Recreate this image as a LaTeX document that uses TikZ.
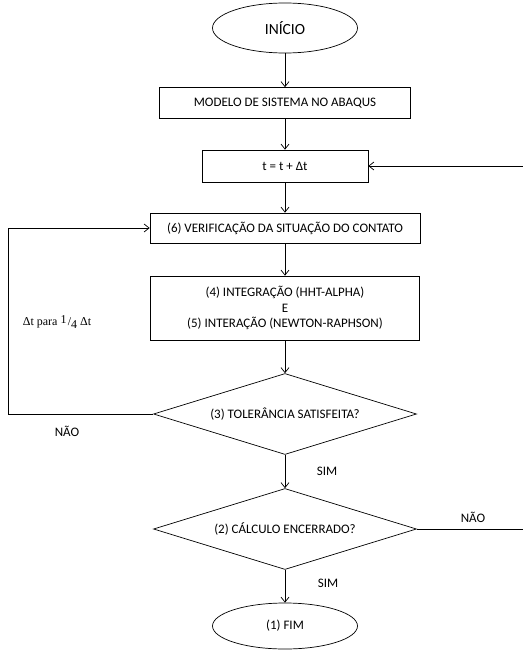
\documentclass[tikz,border=0pt]{standalone}
\usepackage{fontspec}
\setmainfont{Carlito}
\newfontfamily\serifa{Liberation Serif}
\usepackage{tikz}
\usetikzlibrary{positioning, calc, shapes, arrows.meta}

\begin{document}
\begin{tikzpicture}[>={Straight Barb[length=5pt,width=8pt]}, on grid, auto, line width=0.7pt,
		every node/.style={font=\fontsize{13}{15.5}\selectfont},
		terminal/.style={draw, ellipse, minimum width=145pt, minimum height=50pt, inner sep=0pt},
		caixa/.style={draw, rectangle, align=center, inner sep=0pt},
		decisao/.style={draw, diamond, aspect=3.2, minimum width=263pt, minimum height=81pt, inner sep=0pt}
	]
		\useasboundingbox (0pt,0pt) rectangle (522pt,-650pt);

		\node[terminal, font=\fontsize{15.5}{18}\selectfont]			(inicio) at (285pt,-28pt)	{INÍCIO};
		\node[caixa, minimum width=251pt, minimum height=31pt]		(modelo) [below=75pt of inicio] 	{MODELO DE SISTEMA NO ABAQUS};
		\node[caixa, minimum width=166pt, minimum height=32pt]		(passo) [below=63pt of modelo] 	{t = t + Δt};
		\node[caixa, minimum width=270pt, minimum height=30pt]		(verif) [below=62pt of passo] 	{(6) VERIFICAÇÃO DA SITUAÇÃO DO CONTATO};
		\node[caixa, minimum width=269pt, minimum height=64pt]		(integ) [below=80pt of verif] 	{(4) INTEGRAÇÃO (HHT-ALPHA)\\E\\(5) INTERAÇÃO (NEWTON-RAPHSON)};
		\node[decisao]									(toler) [below=106pt of integ] 	{(3) TOLERÂNCIA SATISFEITA?};
		\node[decisao]									(encer) [below=115pt of toler] 	{(2) CÁLCULO ENCERRADO?};
		\node[terminal, minimum height=46pt]						(fim) [below=97pt of encer] 	{(1) FIM};

		%Rótulos:
		\node (naoesq) at (67pt,-431pt) {NÃO};
		\node (reduz) at (57pt,-322pt) {\serifa\fontsize{12}{14}\selectfont Δt para \raisebox{0.45ex}{1}\hspace{0.1em}/\raisebox{-0.55ex}{4} Δt};
		\node (simum) at (327pt,-471pt) {SIM};
		\node (simdois) at (328pt,-583pt) {SIM};
		\node (naodir) at (473pt,-517pt) {NÃO};

		%Fluxo:
		\draw[->] (inicio) -- (modelo);
		\draw[->] (modelo) -- (passo);
		\draw[->] (passo) -- (verif);
		\draw[->] (verif) -- (integ);
		\draw[->] (integ) -- (toler);
		\draw[->] (toler) -- (encer);
		\draw[->] (encer) -- (fim);
		\draw[->] (toler.west) -- ++(-145pt,0) |- (verif.west);
		\draw[->] (encer.east) -- ++(112pt,0) |- (passo.east);
	\end{tikzpicture}
\end{document}
